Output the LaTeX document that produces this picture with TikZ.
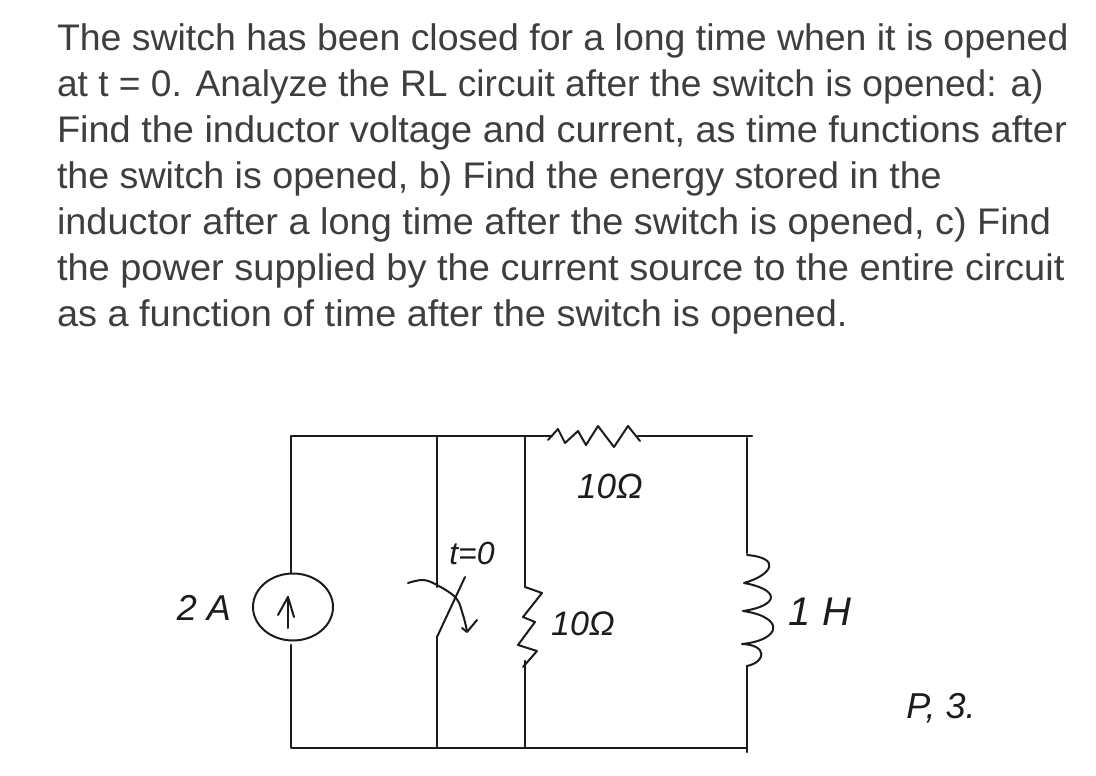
\documentclass[tikz,border=0pt]{standalone}
\usepackage{fontspec}
\usetikzlibrary{shapes.geometric}
\setmainfont{Liberation Sans}
\definecolor{bodyink}{HTML}{3E3E3E}
\definecolor{penink}{HTML}{1C1C1C}
\begin{document}
\begin{tikzpicture}[x=1pt,y=-1pt,
  wire/.style={line width=2.2pt,penink,line cap=round,line join=round},
  ink/.style={line width=2pt,penink,line cap=round,line join=round},
  body/.style={anchor=base west,inner sep=0pt,outer sep=0pt,font=\fontsize{37}{37}\selectfont,text=bodyink},
  hand/.style={inner sep=0pt,outer sep=0pt,text=penink,font=\fontsize{36}{36}\selectfont\itshape}]
\useasboundingbox[fill=white] (0,0) rectangle (1096,776);
\node[body] (l1) at (57,51) {\scalebox{1.012}[1]{The switch has been closed for a long time when it is opened}};
\node[body] (l2) at (57,96.5) {\scalebox{1.004}[1]{at t = 0. Analyze the RL circuit after the switch is opened: a)}};
\node[body] (l3) at (57,142.5) {\scalebox{1.025}[1]{Find the inductor voltage and current, as time functions after}};
\node[body] (l4) at (57,188) {\scalebox{1.017}[1]{the switch is opened, b) Find the energy stored in the}};
\node[body] (l5) at (57,234) {\scalebox{1.024}[1]{inductor after a long time after the switch is opened, c) Find}};
\node[body] (l6) at (57,280) {\scalebox{1.027}[1]{the power supplied by the current source to the entire circuit}};
\node[body] (l7) at (57,326) {\scalebox{1.025}[1]{as a function of time after the switch is opened.}};
% junctions
\coordinate (tl) at (291,436);
\coordinate (tm) at (525,436);
\coordinate (tr) at (752,436);
\coordinate (bl) at (291,748);
\coordinate (br) at (747,748);
\coordinate (swT) at (437,436);
\coordinate (swB) at (437,748);
\coordinate (swa) at (437,587);
\coordinate (swb) at (437,637);
\coordinate (swtip) at (465,577);
\coordinate (midB) at (525,748);
\coordinate (r1a) at (548,440);
\coordinate (r1b) at (640,441);
\coordinate (r1w) at (638,436);
\coordinate (r1l) at (552,436);
\coordinate (r2a) at (525,587);
\coordinate (r2b) at (523,667);
\coordinate (r2w) at (525,661);
\coordinate (la) at (747,438);
\coordinate (lt) at (747,553);
\coordinate (lb) at (747,666);
\coordinate (srcT) at (291,573);
\coordinate (srcB) at (291,645);
% current source
\node[draw,ellipse,ink,minimum width=80pt,minimum height=67pt,inner sep=0pt] (src) at (293,607) {};
\coordinate (arT) at (288,597);
\coordinate (arB) at (288,628);
\draw[ink] (arB) -- (arT);
\draw[ink] (278,615) -- (arT) -- (294,617);
% wires
\draw[wire] (srcT) -- (tl) -- (r1l);
\draw[wire] (r1w) -- (tr);
\draw[wire] (srcB) -- (bl) -- (br);
\draw[wire] (swT) -- (swa);
\draw[wire] (swb) -- (swB);
\draw[wire] (tm) -- (r2a);
\draw[wire] (r2w) -- (midB);
\draw[wire] (la) -- (lt);
\draw[wire] (lb) -- (747,752);
% switch
\draw[ink] (swb) -- (swtip);
\draw[ink] plot[smooth,tension=0.6] coordinates {(408,583) (423,580) (437,585) (456,598) (463,615) (467,631)};
\draw[ink] (462,628) -- (467,632) -- (477,620);
% top resistor
\draw[ink] (r1a) -- (558,429) -- (565,443) -- (578,431) -- (586,445) -- (598,426) -- (614,447) -- (628,426) -- (r1b);
% vertical resistor
\draw[ink] (r2a) -- (542,593) -- (523,617) -- (535,622) -- (518,645) -- (537,651) -- (r2b);
% inductor
\draw[ink] (747,555) .. controls (782,558) and (772,575) .. (744,583)
  .. controls (782,590) and (778,606) .. (743,611)
  .. controls (785,617) and (782,640) .. (742,644)
  .. controls (768,645) and (766,662) .. (lb);
% labels
\node[hand] (t2a) at (204,608) {2 A};
\node[hand,font=\fontsize{32}{32}\selectfont\itshape] (tsw) at (472,553) {t=0};
\node[hand,font=\fontsize{35}{35}\selectfont\itshape] (tr1) at (610,486) {10Ω};
\node[hand,font=\fontsize{34}{34}\selectfont\itshape] (tr2) at (583,624) {10Ω};
\node[hand,font=\fontsize{40}{40}\selectfont\itshape] (tl1) at (820,612) {1 H};
\node[hand] (tp3) at (941,708) {P, 3.};
\end{tikzpicture}
\end{document}
